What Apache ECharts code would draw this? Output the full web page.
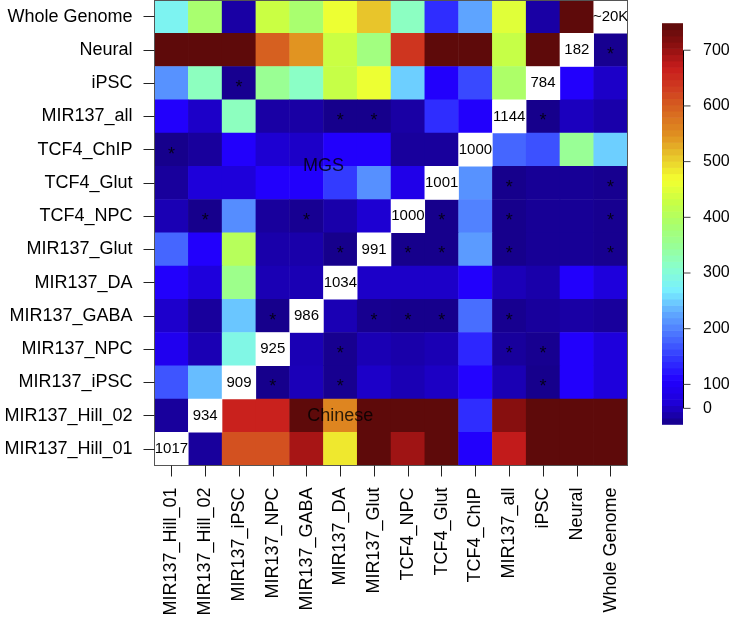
<!DOCTYPE html>
<html><head><meta charset="utf-8">
<script src="https://cdn.jsdelivr.net/npm/echarts@6/dist/echarts.min.js"></script>
<style>html,body{margin:0;padding:0;background:#fff}#c{width:736px;height:621px}</style>
</head><body><div id="c"></div>
<script>
// Columns (left to right) == rows (bottom to top)
const categories = ['MIR137_Hill_01','MIR137_Hill_02','MIR137_iPSC','MIR137_NPC','MIR137_GABA','MIR137_DA','MIR137_Glut','TCF4_NPC','TCF4_Glut','TCF4_ChIP','MIR137_all','iPSC','Neural','Whole Genome'];

// Row values, one array per row, columns in the order of `categories` (null = diagonal)
const rowWholeGenome = [280,385,42,430,385,462,510,318,140,225,450,42,745,null];
const rowNeural      = [745,745,745,598,545,430,370,640,745,745,425,745,null,32];
const rowIPSC        = [212,320,32,352,315,425,462,250,105,160,392,null,105,60];
const rowMIR137all   = [105,60,320,42,42,30,30,42,140,105,null,30,55,45];
const rowTCF4ChIP    = [30,38,105,65,60,105,105,38,38,null,180,165,350,250];
const rowTCF4Glut    = [38,70,70,105,105,150,210,85,null,212,30,35,35,32];
const rowTCF4NPC     = [50,30,208,38,33,45,65,null,30,200,30,35,35,32];
const rowMIR137Glut  = [180,105,405,45,45,30,null,30,30,218,30,35,35,32];
const rowMIR137DA    = [105,72,360,50,50,null,60,60,60,105,52,45,105,72];
const rowMIR137GABA  = [62,38,245,30,null,50,32,30,30,185,32,38,42,38];
const rowMIR137NPC   = [92,50,290,null,50,32,50,45,50,135,38,32,105,72];
const rowMIR137iPSC  = [168,240,null,30,52,32,60,50,58,110,50,30,105,72];
const rowMIR137Hill02= [38,null,662,662,745,560,745,745,745,140,712,745,745,745];
const rowMIR137Hill01= [null,38,612,612,690,485,745,695,745,105,672,745,745,745];

// Diagonal (set size) labels, in the order of `categories`
const diagLabels = ['1017','934','909','925','986','1034','991','1000','1001','1000','1144','784','182','~20K'];

// Cells marked with an asterisk: [column, row]
const starCells = [
  ['Whole Genome','Neural'],
  ['MIR137_iPSC','iPSC'],
  ['MIR137_DA','MIR137_all'],['MIR137_Glut','MIR137_all'],['iPSC','MIR137_all'],
  ['MIR137_Hill_01','TCF4_ChIP'],
  ['MIR137_all','TCF4_Glut'],['Whole Genome','TCF4_Glut'],
  ['MIR137_Hill_02','TCF4_NPC'],['MIR137_GABA','TCF4_NPC'],['TCF4_Glut','TCF4_NPC'],['MIR137_all','TCF4_NPC'],['Whole Genome','TCF4_NPC'],
  ['MIR137_DA','MIR137_Glut'],['TCF4_NPC','MIR137_Glut'],['TCF4_Glut','MIR137_Glut'],['MIR137_all','MIR137_Glut'],['Whole Genome','MIR137_Glut'],
  ['MIR137_NPC','MIR137_GABA'],['MIR137_Glut','MIR137_GABA'],['TCF4_NPC','MIR137_GABA'],['TCF4_Glut','MIR137_GABA'],['MIR137_all','MIR137_GABA'],
  ['MIR137_DA','MIR137_NPC'],['MIR137_all','MIR137_NPC'],['iPSC','MIR137_NPC'],
  ['MIR137_NPC','MIR137_iPSC'],['MIR137_DA','MIR137_iPSC'],['iPSC','MIR137_iPSC']
];

// Group annotations: text and position in category index units
const groupLabels = ['MGS','Chinese'];
const groupPos = [[4.5, 8.5],[5, 1]];

// Colour scale
const colorMin = 28, colorMax = 748;
const legendTickPos = [57,100,200,300,400,500,600,700];
const legendTickLabels = ['0','100','200','300','400','500','600','700'];
const jetColors = ['#160088','#1e00d8','#2200ff','#3238ff','#4a72ff','#60a8ff','#78eeff','#88ffd0','#98ff98','#aaff6c','#c8ff44','#f4ff30','#e8c82c','#e09020','#d86a20','#d04020','#c81c1c','#8c1010','#5a0a0a'];

const rows = [
  ['Whole Genome',rowWholeGenome],['Neural',rowNeural],['iPSC',rowIPSC],['MIR137_all',rowMIR137all],
  ['TCF4_ChIP',rowTCF4ChIP],['TCF4_Glut',rowTCF4Glut],['TCF4_NPC',rowTCF4NPC],['MIR137_Glut',rowMIR137Glut],
  ['MIR137_DA',rowMIR137DA],['MIR137_GABA',rowMIR137GABA],['MIR137_NPC',rowMIR137NPC],['MIR137_iPSC',rowMIR137iPSC],
  ['MIR137_Hill_02',rowMIR137Hill02],['MIR137_Hill_01',rowMIR137Hill01]
];
const heatData = [];
rows.forEach(([name, vals]) => {
  const r = categories.indexOf(name);
  vals.forEach((v, c) => { if (v !== null) heatData.push([c, r, v]); });
});
const diagData = categories.map((_, i) => [i, i, 0]);
const starData = starCells.map(([c, r]) => [categories.indexOf(c), categories.indexOf(r)]);
const groupData = groupPos.map((p, i) => [p[0], p[1], i]);
const legendTickData = legendTickPos.map(v => [1, v]);

// colour bar bands (64 bins like the original palette)
const nBands = 64;
const bandData = [];
for (let i = 0; i < nBands; i++) {
  const lo = colorMin + (colorMax - colorMin) * i / nBands;
  const hi = colorMin + (colorMax - colorMin) * (i + 1) / nBands;
  bandData.push([lo, hi, (lo + hi) / 2]);
}

const FONT = 'Liberation Sans, Arial, Helvetica, sans-serif';
const chart = echarts.init(document.getElementById('c'), null, {renderer: 'canvas'});
chart.setOption({
  animation: false,
  backgroundColor: '#fff',
  textStyle: {fontFamily: FONT, color: '#000'},
  grid: [
    {left: 154.5, top: 0, width: 473, height: 465.5},
    {left: 662, top: 23.5, width: 21, height: 401}
  ],
  visualMap: {
    show: false, type: 'continuous', min: colorMin, max: colorMax,
    dimension: 2, seriesIndex: [0, 4],
    inRange: {color: jetColors}
  },
  xAxis: [
    {type: 'category', gridIndex: 0, data: categories, z: 5, position: 'bottom',
     axisLine: {show: true, onZero: false, lineStyle: {color: '#555', width: 1}},
     axisTick: {show: true, alignWithLabel: true, length: 11, lineStyle: {color: '#222', width: 1}},
     axisLabel: {rotate: 90, margin: 22, fontSize: 18, color: '#000', interval: 0},
     splitLine: {show: false}},
    {type: 'value', gridIndex: 0, min: -0.5, max: 13.5, position: 'top', z: 5,
     axisLine: {show: true, onZero: false, lineStyle: {color: '#555', width: 1}},
     axisTick: {show: false}, axisLabel: {show: false}, splitLine: {show: false}},
    {type: 'value', gridIndex: 1, min: 0, max: 1, show: false, splitLine: {show: false}}
  ],
  yAxis: [
    {type: 'category', gridIndex: 0, data: categories, z: 5, position: 'left',
     axisLine: {show: true, onZero: false, lineStyle: {color: '#555', width: 1}},
     axisTick: {show: true, alignWithLabel: true, length: 11, lineStyle: {color: '#222', width: 1}},
     axisLabel: {margin: 22, fontSize: 18, color: '#000', interval: 0},
     splitLine: {show: false}},
    {type: 'value', gridIndex: 0, min: -0.5, max: 13.5, position: 'right', z: 5,
     axisLine: {show: true, onZero: false, lineStyle: {color: '#555', width: 1}},
     axisTick: {show: false}, axisLabel: {show: false}, splitLine: {show: false}},
    {type: 'value', gridIndex: 1, min: colorMin, max: colorMax, show: false, splitLine: {show: false}}
  ],
  series: [
    {type: 'heatmap', xAxisIndex: 0, yAxisIndex: 0, data: heatData,
     itemStyle: {borderWidth: 0}, emphasis: {disabled: true}, progressive: 0},
    {type: 'heatmap', xAxisIndex: 0, yAxisIndex: 0, data: diagData,
     itemStyle: {color: '#ffffff', borderWidth: 0}, emphasis: {disabled: true},
     label: {show: true, fontSize: 15, color: '#000',
       formatter: p => diagLabels[p.dataIndex]}},
    {type: 'scatter', xAxisIndex: 0, yAxisIndex: 0, data: starData, symbolSize: 0, silent: true,
     label: {show: true, position: 'inside', formatter: '*', fontSize: 18, color: '#000', offset: [0, 5]}},
    {type: 'scatter', xAxisIndex: 1, yAxisIndex: 1, data: groupData, symbolSize: 0, silent: true,
     label: {show: true, position: 'inside', fontSize: 18, color: '#000',
       formatter: p => groupLabels[p.data[2]]}},
    {type: 'custom', xAxisIndex: 2, yAxisIndex: 2, data: bandData, silent: true,
     encode: {x: -1, y: [0, 1]},
     renderItem: (params, api) => {
       const p0 = api.coord([0, api.value(0)]);
       const p1 = api.coord([1, api.value(1)]);
       return {type: 'rect',
         shape: {x: p0[0], y: p1[1] - 0.3, width: p1[0] - p0[0], height: p0[1] - p1[1] + 0.6},
         style: {fill: api.visual('color')}};
     }},
    // colour-bar axis line (from the first to the last tick)
    {type: 'custom', xAxisIndex: 2, yAxisIndex: 2, silent: true, z: 10, clip: false,
     data: [[1, legendTickPos[0], legendTickPos[legendTickPos.length - 1]]],
     encode: {x: 0, y: [1, 2]},
     renderItem: (params, api) => {
       const a = api.coord([api.value(0), api.value(1)]);
       const b = api.coord([api.value(0), api.value(2)]);
       return {type: 'line', shape: {x1: Math.round(a[0]) + 0.5, y1: a[1], x2: Math.round(b[0]) + 0.5, y2: b[1]},
         style: {stroke: '#000', lineWidth: 1}};
     }},
    // colour-bar ticks and labels
    {type: 'custom', xAxisIndex: 2, yAxisIndex: 2, silent: true, z: 10, clip: false,
     data: legendTickData, encode: {x: 0, y: 1},
     renderItem: (params, api) => {
       const p = api.coord([api.value(0), api.value(1)]);
       const x = Math.round(p[0]) + 0.5;
       return {type: 'group', children: [
         {type: 'line', shape: {x1: x, y1: p[1], x2: x + 7, y2: p[1]}, style: {stroke: '#444', lineWidth: 1}},
         {type: 'text', style: {text: legendTickLabels[params.dataIndex], x: p[0] + 20, y: p[1],
           align: 'left', verticalAlign: 'middle', fontSize: 16, fontFamily: FONT, fill: '#000'}}
       ]};
     }}
  ]
});
</script>
</body></html>
